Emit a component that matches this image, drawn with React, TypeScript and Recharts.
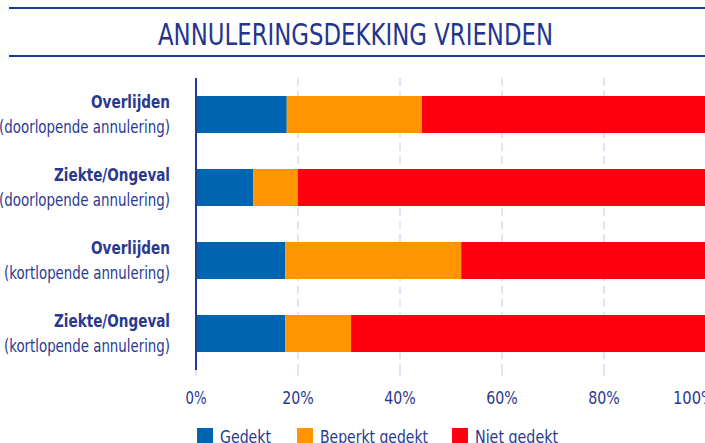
import { BarChart, Bar, XAxis, YAxis, CartesianGrid, Legend } from 'recharts';

const titles = ['Overlijden', 'Ziekte/Ongeval', 'Overlijden', 'Ziekte/Ongeval'];
const subtitles = [
  '(doorlopende annulering)',
  '(doorlopende annulering)',
  '(kortlopende annulering)',
  '(kortlopende annulering)',
];
const gedekt = [17.8, 11.2, 17.5, 17.5];
const beperkt = [26.5, 8.8, 34.5, 12.9];
const niet = [55.7, 80, 48, 69.6];
const ticks = [0, 20, 40, 60, 80, 100];

const series = [
  { key: 'gedekt', name: 'Gedekt', color: '#0065b0' },
  { key: 'beperkt', name: 'Beperkt gedekt', color: '#ff9500' },
  { key: 'niet', name: 'Niet gedekt', color: '#ff0010' },
];

const data = titles.map((t, i) => ({
  id: String(i),
  title: t,
  sub: subtitles[i],
  gedekt: gedekt[i],
  beperkt: beperkt[i],
  niet: niet[i],
}));

const FONT = "'DejaVu Sans Condensed', 'Liberation Sans Narrow', Roboto, sans-serif";
const NAVY = '#2a3990';

function CategoryTick({ x, y, payload }: any) {
  const d = data[Number(payload.value)];
  return (
    <g fontFamily={FONT} fill={NAVY} textAnchor="end">
      <text x={x - 18} y={y - 7} fontSize={17} fontWeight="bold" textLength={d.title === 'Overlijden' ? 79 : 116} lengthAdjust="spacingAndGlyphs">
        {d.title}
      </text>
      <text x={x - 18} y={y + 18} fontSize={17} textLength={d.sub.startsWith('(door') ? 171 : 166} lengthAdjust="spacingAndGlyphs">
        {d.sub}
      </text>
    </g>
  );
}

function PercentTick({ x, y, payload }: any) {
  const label = `${payload.value}%`;
  return (
    <text x={x} y={y + 26} fontFamily={FONT} fontSize={18} fill={NAVY} textAnchor="middle" textLength={label.length * 10.5} lengthAdjust="spacingAndGlyphs">
      {label}
    </text>
  );
}

const legendX = [197, 297, 452];
const legendW = [51, 108, 83];

function LegendContent() {
  return (
    <svg width={705} height={33} style={{ display: 'block' }}>
      {series.map((s, i) => (
        <g key={s.key}>
          <rect x={legendX[i]} y={18} width={16} height={16} fill={s.color} />
          <text x={legendX[i] + 23} y={33} fontFamily={FONT} fontSize={18} fill={NAVY} textLength={legendW[i]} lengthAdjust="spacingAndGlyphs">
            {s.name}
          </text>
        </g>
      ))}
    </svg>
  );
}

export default function App() {
  return (
    <div style={{ position: 'absolute', left: 0, top: 0, width: 705, height: 443, overflow: 'hidden', background: '#fff' }}>
      <svg width={705} height={60} style={{ position: 'absolute', left: 0, top: 0 }}>
        <line x1={9} x2={705} y1={8} y2={8} stroke="#1f3a93" strokeWidth={2} />
        <line x1={9} x2={705} y1={56} y2={56} stroke="#1f3a93" strokeWidth={2} />
        <text x={158} y={44.5} fontFamily={FONT} fontSize={30} fill="#23358f" textLength={395} lengthAdjust="spacingAndGlyphs">
          ANNULERINGSDEKKING VRIENDEN
        </text>
      </svg>
      <div style={{ position: 'absolute', left: 0, top: 0 }}>
        <BarChart
          width={706}
          height={443}
          data={data}
          layout="vertical"
          barSize={37}
          margin={{ top: 78, right: 0, left: 0, bottom: 0 }}
        >
          <CartesianGrid horizontal={false} stroke="#c9c6ea" strokeDasharray="8 5" />
          <XAxis
            type="number"
            domain={[0, 100]}
            ticks={ticks}
            axisLine={false}
            tickLine={{ stroke: '#c9c6ea' }}
            tickSize={6}
            height={40}
            tick={<PercentTick />}
          />
          <YAxis
            type="category"
            dataKey="id"
            width={196}
            axisLine={{ stroke: NAVY, strokeWidth: 2 }}
            tickLine={false}
            tick={<CategoryTick />}
          />
          <Legend verticalAlign="bottom" height={33} content={<LegendContent />} />
          {series.map((s) => (
            <Bar key={s.key} dataKey={s.key} name={s.name} stackId="a" fill={s.color} isAnimationActive={false} />
          ))}
        </BarChart>
      </div>
    </div>
  );
}
